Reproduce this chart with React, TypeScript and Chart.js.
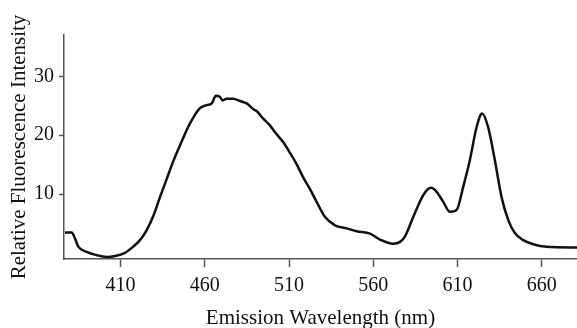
import React, { useEffect, useRef } from "react";
import { Chart, registerables } from "chart.js";

Chart.register(...registerables);

// Emission wavelength (nm)
const wavelengths: number[] = [
  377.0, 381.0, 382.9, 384.9, 389.9, 395.8, 401.7, 406.7, 412.6, 417.5,
  421.5, 425.5, 429.4, 433.4, 437.4, 441.3, 445.3, 451.2, 457.1, 461.1,
  464.1, 466.6, 469.0, 470.6, 473.0, 476.9, 480.9, 484.9, 488.8, 490.8,
  494.7, 498.3, 501.7, 506.6, 510.6, 514.5, 518.5, 522.4, 526.4, 531.3,
  537.3, 544.2, 550.2, 558.1, 564.0, 571.9, 575.9, 578.8, 583.8, 588.7,
  592.3, 594.5, 596.8, 601.6, 605.5, 609.5, 613.4, 617.4, 621.4, 624.7,
  628.2, 632.2, 636.2, 640.2, 644.1, 649.1, 655.0, 663.0, 677.8, 681.0,
];

// Relative fluorescence intensity
const intensity: number[] = [
  3.5, 3.5, 2.5, 1.1, 0.2, -0.35, -0.65, -0.5, 0.05, 1.1,
  2.2, 3.9, 6.3, 9.5, 12.6, 15.6, 18.3, 22.0, 24.6, 25.1,
  25.4, 26.7, 26.5, 25.9, 26.2, 26.2, 25.8, 25.4, 24.4, 24.1,
  22.8, 21.8, 20.5, 18.8, 17.0, 15.1, 12.8, 10.9, 8.7, 6.15,
  4.7, 4.2, 3.7, 3.3, 2.3, 1.6, 1.9, 2.8, 6.15, 9.3,
  10.8, 11.1, 10.7, 8.7, 7.0, 7.3, 11.2, 15.8, 21.4, 23.7,
  21.4, 15.8, 9.5, 5.6, 3.4, 2.2, 1.5, 1.07, 0.97, 0.97,
];

const xTicks: number[] = [410, 460, 510, 560, 610, 660];
const yTicks: number[] = [10, 20, 30];

const xTitle = "Emission Wavelength (nm)";
const yTitle = "Relative Fluorescence Intensity";

export default function App() {
  const canvasRef = useRef<HTMLCanvasElement | null>(null);

  useEffect(() => {
    const canvas = canvasRef.current;
    if (!canvas) return;
    const axisColor = "#555555";
    const fontFamily = "'Liberation Serif', 'Times New Roman', serif";
    const chart = new Chart(canvas, {
      type: "line",
      data: {
        datasets: [
          {
            data: wavelengths.map((w, i) => ({ x: w, y: intensity[i] })),
            borderColor: "#111111",
            borderWidth: 2.5,
            pointRadius: 0,
            cubicInterpolationMode: "monotone",
            fill: false,
          },
        ],
      },
      options: {
        responsive: false,
        animation: false,
        devicePixelRatio: 1,
        layout: { padding: { top: 35, right: 0, left: 0, bottom: 0 } },
        plugins: {
          legend: { display: false },
          tooltip: { enabled: false },
        },
        scales: {
          x: {
            type: "linear",
            min: 376.4,
            max: 681,
            afterFit: (scale: any) => {
              scale.height = 69;
            },
            afterBuildTicks: (scale: any) => {
              scale.ticks = xTicks.map((v) => ({ value: v }));
            },
            border: { display: true, color: axisColor, width: 1.5 },
            grid: {
              display: true,
              drawOnChartArea: false,
              drawTicks: true,
              tickLength: 8,
              color: axisColor,
              tickWidth: 1.5,
            },
            ticks: {
              color: "#111111",
              padding: 7,
              maxRotation: 0,
              font: { family: fontFamily, size: 20 },
              callback: (v: any) => String(v),
            },
            title: {
              display: true,
              text: xTitle,
              color: "#111111",
              font: { family: fontFamily, size: 21, lineHeight: 1 },
              padding: { top: 0, bottom: -1 },
            },
          },
          y: {
            type: "linear",
            min: -1,
            max: 37,
            afterFit: (scale: any) => {
              scale.width = 64;
            },
            afterBuildTicks: (scale: any) => {
              scale.ticks = yTicks.map((v) => ({ value: v }));
            },
            border: { display: true, color: axisColor, width: 1.5 },
            grid: {
              display: true,
              drawOnChartArea: false,
              drawTicks: true,
              tickLength: 5,
              color: axisColor,
              tickWidth: 1.5,
            },
            ticks: {
              color: "#111111",
              padding: 5,
              font: { family: fontFamily, size: 20 },
              callback: (v: any) => String(v),
            },
            title: {
              display: true,
              text: yTitle,
              color: "#111111",
              font: { family: fontFamily, size: 21, lineHeight: 1 },
              padding: { top: 9, bottom: 0 },
            },
          },
        },
      },
    });
    return () => chart.destroy();
  }, []);

  return (
    <div style={{ position: "absolute", left: 0, top: 0, width: 577, height: 328, background: "#ffffff" }}>
      <canvas ref={canvasRef} width={577} height={328} style={{ display: "block", width: 577, height: 328 }} />
    </div>
  );
}
